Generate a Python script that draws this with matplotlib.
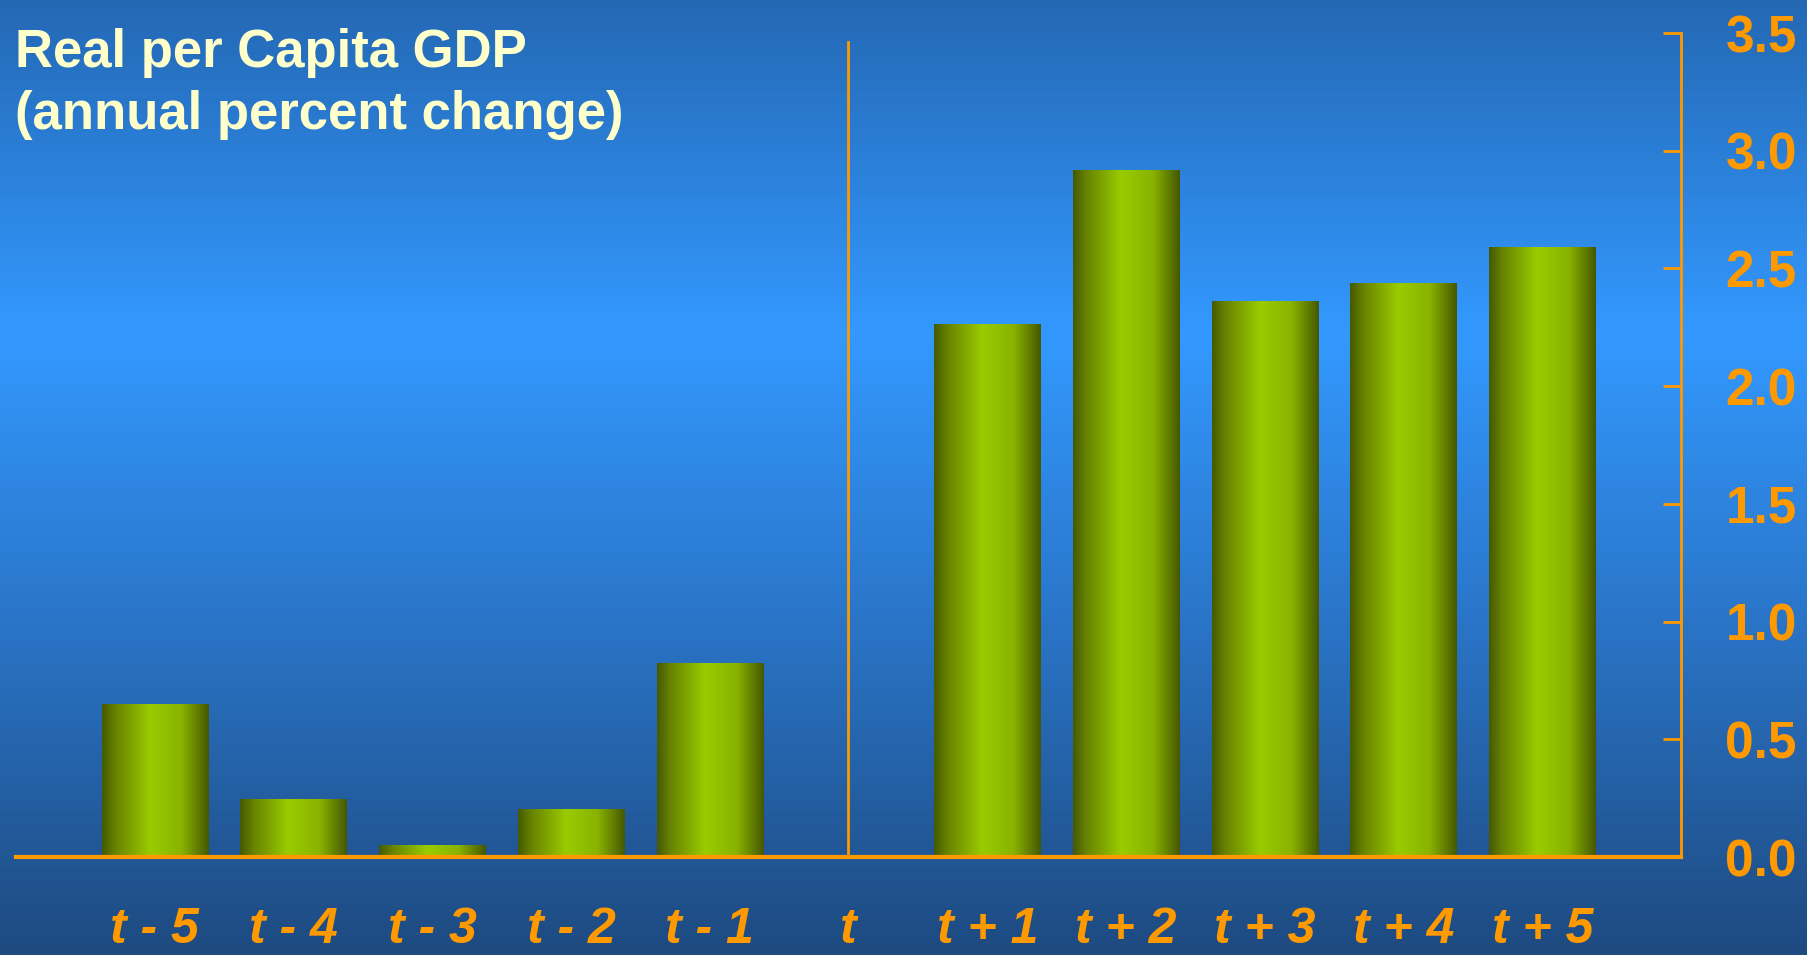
import matplotlib
matplotlib.use('Agg')

import numpy as np
import matplotlib.pyplot as plt
from matplotlib.colors import LinearSegmentedColormap

# Data
labels = ["t - 5", "t - 4", "t - 3", "t - 2", "t - 1", "t",
          "t + 1", "t + 2", "t + 3", "t + 4", "t + 5"]
growth = [0.65, 0.245, 0.05, 0.205, 0.825, None,
          2.265, 2.92, 2.36, 2.44, 2.59]
divider_top = 3.46
yticks = [0.0, 0.5, 1.0, 1.5, 2.0, 2.5, 3.0, 3.5]

orange = "#FF9900"
title_col = "#FFFFCC"

plt.rcParams['font.family'] = ['Liberation Sans', 'DejaVu Sans']

fig = plt.figure(figsize=(18.08, 9.55), dpi=100)

# background: vertical blue gradient
bg = fig.add_axes([0, 0, 1, 1], zorder=0)
bg_cmap = LinearSegmentedColormap.from_list(
    "bg", [(0.0, "#1E4A80"), (0.35, "#2A75C8"), (0.65, "#3399FF"),
           (1.0, "#2468B4")])
bg.imshow(np.linspace(0, 1, 256).reshape(-1, 1), cmap=bg_cmap,
          aspect='auto', extent=[0, 1, 0, 1], origin='lower')
bg.set_axis_off()

W, H = 1808, 955
ax = fig.add_axes([16 / W, 98 / H, (1681 - 16) / W, (922 - 98) / H], zorder=1)
ax.patch.set_alpha(0)

# horizontal shading for the cylinder-like bars
bar_cmap = LinearSegmentedColormap.from_list(
    "bar", [(0.0, "#465A00"), (0.12, "#678200"), (0.45, "#99CC00"),
            (0.75, "#88B200"), (1.0, "#465800")])
shade = np.linspace(0, 1, 200).reshape(1, -1)

x = np.arange(len(labels))
width = 0.765
for xi, v in zip(x, growth):
    if v is None:
        continue
    bar = ax.bar(xi, v, width=width, color='none', edgecolor='none')[0]
    im = ax.imshow(shade, cmap=bar_cmap, aspect='auto', zorder=2,
                   extent=[xi - width / 2, xi + width / 2, 0, v])
    im.set_clip_path(bar)

# vertical divider at t
t_idx = labels.index("t")
ax.plot([t_idx, t_idx], [0, divider_top], color=orange, lw=2, zorder=3)

ax.set_xlim(-1, 11)
ax.set_ylim(0, 3.5)

ax.set_xticks(x)
ax.set_xticklabels(labels)
ax.tick_params(axis='x', length=0, pad=36, labelsize=36, labelcolor=orange)
for lab in ax.get_xticklabels():
    lab.set_fontweight('bold')
    lab.set_fontstyle('italic')

ax.yaxis.tick_right()
ax.set_yticks(yticks)
ax.set_yticklabels([f"{v:.1f}" for v in yticks])
ax.tick_params(axis='y', direction='in', length=13, width=2, color=orange,
               pad=32, labelsize=37, labelcolor=orange)
for lab in ax.get_yticklabels():
    lab.set_fontweight('bold')

for side in ['left', 'top']:
    ax.spines[side].set_visible(False)
ax.spines['right'].set_color(orange)
ax.spines['right'].set_linewidth(2)
ax.spines['bottom'].set_color(orange)
ax.spines['bottom'].set_linewidth(3)

fig.text(15 / W, 1 - 28 / H, "Real per Capita GDP\n(annual percent change)",
         color=title_col, fontsize=38, fontweight='bold', va='top', ha='left',
         linespacing=1.3, zorder=5)

fig.savefig("out.png", dpi=100)
print("Saved plot as out.png")
